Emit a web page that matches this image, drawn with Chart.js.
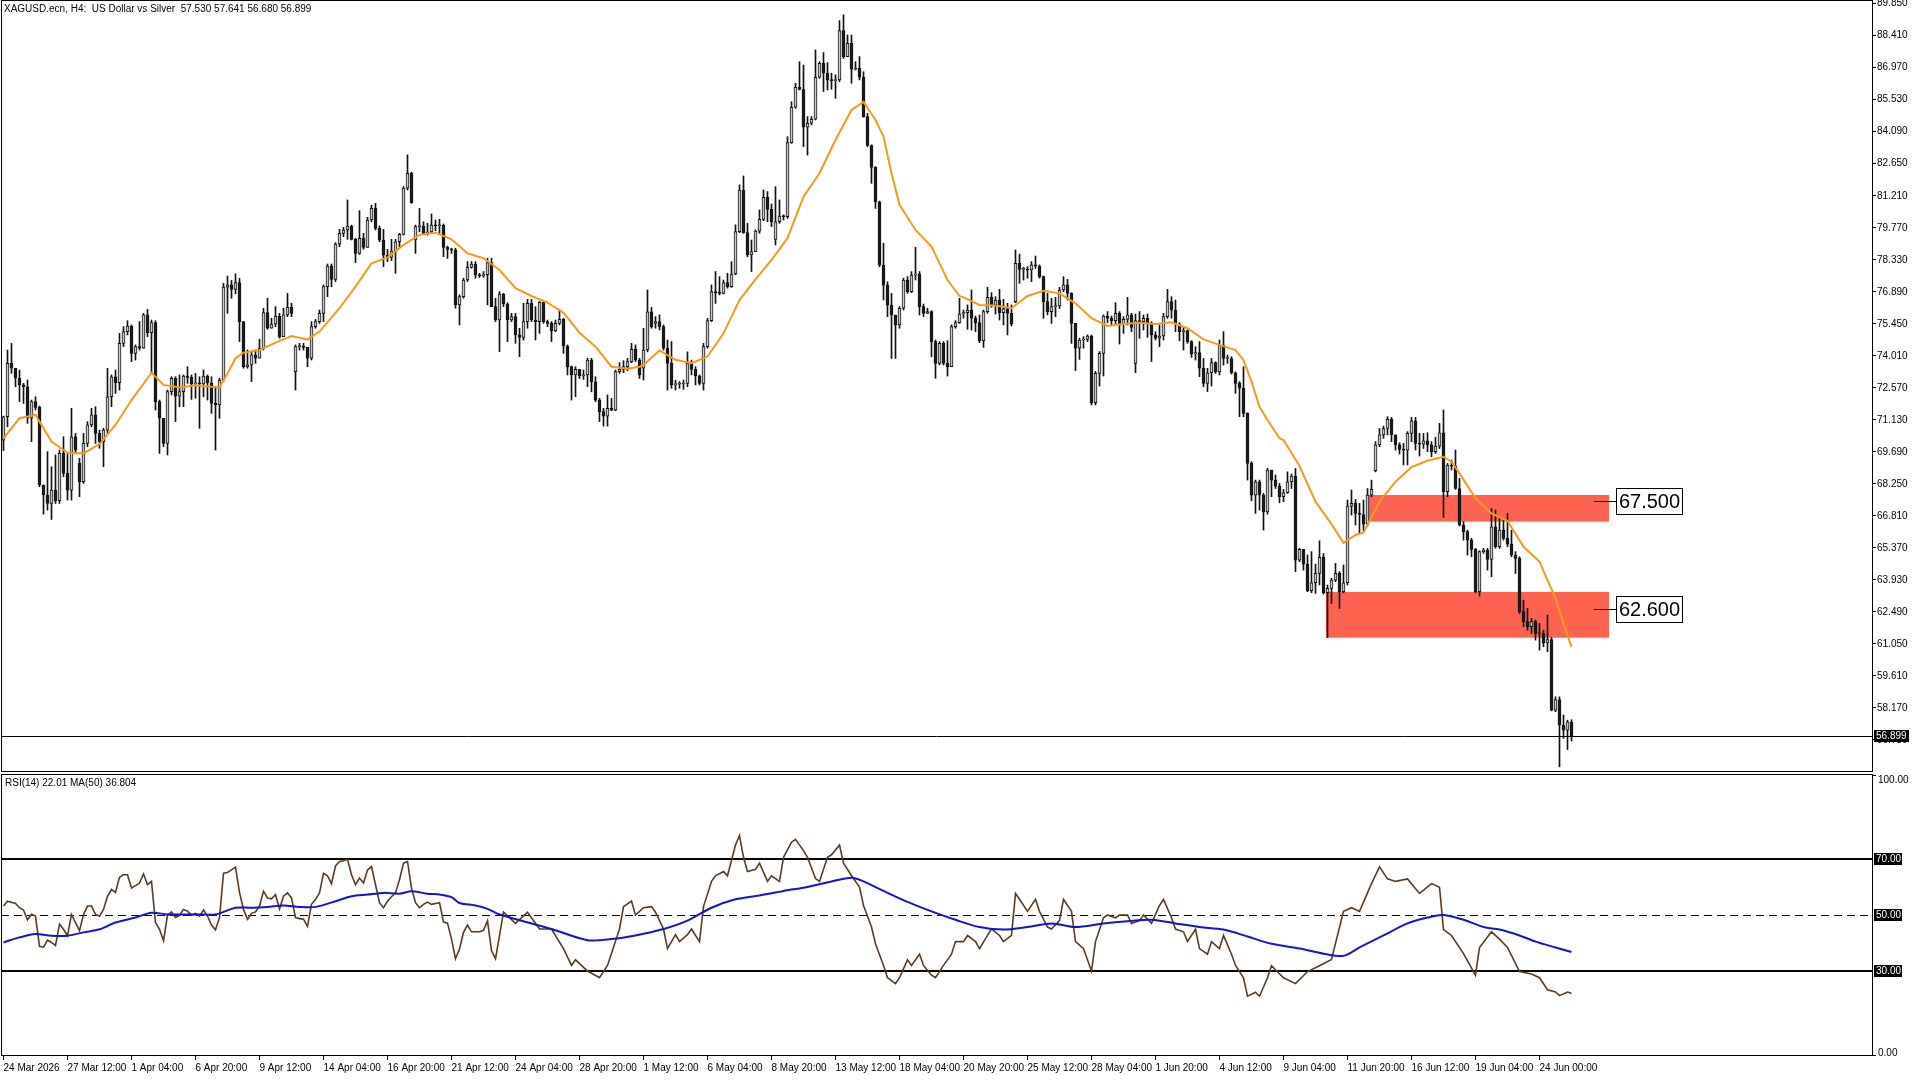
<!DOCTYPE html>
<html>
<head>
<meta charset="utf-8">
<script src="https://cdn.jsdelivr.net/npm/chart.js@4.4.1/dist/chart.umd.min.js"></script>
<style>
    html, body { margin: 0; padding: 0; background: #fff; }
    #wrap { position: relative; width: 1920px; height: 1080px; overflow: hidden; background: #fff; }
    #priceChart { position: absolute; left: 0; top: 0; }
    #rsiChart { position: absolute; left: 0; top: 772px; }
</style>
</head>
<body>
<div id="wrap">
    <canvas id="priceChart" width="1920" height="772"></canvas>
    <canvas id="rsiChart" width="1920" height="308"></canvas>
</div>
<script>
// XAGUSD H4 candles, bar 0 = 24 Mar 2026 20:00
const closes = [
    71.27, 73.67, 73.45, 73.00, 72.70, 72.62, 71.20, 71.95, 71.69, 68.20,
    67.75, 67.37, 67.97, 67.49, 69.62, 68.72, 67.97, 70.37, 69.77, 68.35,
    70.07, 70.90, 71.35, 70.52, 70.15, 70.67, 72.17, 73.07, 72.80, 74.57,
    75.10, 75.35, 74.12, 74.42, 74.35, 75.85, 75.05, 75.50, 71.95, 71.20,
    70.07, 72.40, 73.00, 72.20, 72.40, 73.10, 73.04, 72.74, 72.80, 72.74,
    73.10, 72.80, 71.87, 71.80, 72.92, 77.10, 77.20, 77.00, 77.30, 75.55,
    73.52, 73.60, 74.05, 73.90, 74.35, 75.95, 75.25, 75.44, 75.80, 74.87,
    75.85, 76.19, 75.92, 74.42, 74.45, 74.39, 73.90, 75.32, 75.55, 75.92,
    77.12, 78.05, 77.45, 79.04, 79.52, 79.67, 79.85, 79.25, 78.62, 79.29,
    78.89, 80.12, 80.64, 79.74, 79.22, 78.54, 78.44, 78.72, 79.14, 79.47,
    81.55, 82.22, 80.90, 79.82, 79.85, 79.52, 79.58, 79.89, 79.86, 79.88,
    78.89, 78.80, 78.77, 76.30, 76.67, 77.42, 77.99, 78.14, 77.65, 77.60,
    77.66, 78.20, 76.22, 75.62, 76.79, 76.34, 75.62, 75.77, 74.95, 74.84,
    75.55, 76.37, 75.62, 75.55, 76.42, 75.55, 75.47, 75.14, 75.47, 75.65,
    74.45, 73.52, 73.15, 73.40, 73.10, 73.15, 73.82, 72.84, 72.02, 71.50,
    71.30, 71.65, 71.57, 73.30, 73.40, 73.52, 73.75, 74.30, 73.82, 73.15,
    74.27, 75.99, 75.32, 75.55, 75.32, 74.35, 73.67, 72.70, 72.73, 72.74,
    72.77, 73.67, 73.40, 73.10, 72.77, 74.42, 75.59, 76.90, 76.85, 76.82,
    77.30, 77.12, 77.69, 79.60, 81.47, 79.55, 78.55, 78.70, 79.62, 80.15,
    81.14, 80.60, 80.04, 80.04, 80.30, 80.27, 83.60, 85.19, 86.09, 85.99,
    84.29, 84.47, 84.65, 86.54, 87.17, 86.72, 86.42, 86.39, 86.42, 88.64,
    87.47, 88.07, 86.90, 86.94, 86.54, 84.77, 83.47, 82.49, 80.94, 78.09,
    77.19, 76.29, 75.84, 75.40, 76.15, 77.42, 76.90, 77.64, 77.69, 76.22,
    75.92, 76.00, 74.65, 73.67, 74.57, 73.67, 73.52, 75.32, 75.50, 75.89,
    75.95, 76.07, 75.70, 75.50, 74.69, 76.00, 76.64, 76.30, 76.52, 75.95,
    76.14, 75.92, 75.44, 78.17, 77.90, 77.90, 77.87, 78.10, 78.05, 77.57,
    76.45, 76.00, 76.22, 76.25, 76.97, 77.20, 76.82, 75.47, 74.35, 74.72,
    74.75, 74.90, 71.90, 73.22, 74.12, 75.80, 75.70, 75.59, 75.92, 75.44,
    75.65, 75.85, 75.29, 75.59, 75.55, 75.70, 75.44, 74.95, 74.80, 74.90,
    75.77, 76.45, 76.07, 75.44, 75.10, 75.14, 74.65, 74.09, 74.15, 73.45,
    72.77, 73.25, 73.70, 73.29, 74.49, 73.89, 73.89, 73.25, 72.77, 72.55,
    71.42, 69.17, 67.74, 68.34, 67.74, 66.99, 68.87, 68.42, 68.15, 67.67,
    67.85, 68.34, 68.60, 64.82, 65.30, 64.64, 63.44, 63.80, 64.22, 64.94,
    63.35, 63.55, 63.92, 64.22, 63.40, 63.80, 67.25, 67.37, 66.92, 66.87,
    66.44, 67.74, 68.00, 70.00, 70.45, 70.74, 71.15, 70.45, 70.00, 69.80,
    69.77, 70.52, 71.09, 70.07, 70.04, 70.19, 70.00, 69.70, 69.95, 70.55,
    67.90, 69.10, 69.05, 68.04, 66.40, 66.10, 65.72, 65.30, 63.40, 65.20,
    65.27, 64.85, 66.32, 65.42, 66.17, 65.80, 65.54, 65.05, 64.90, 62.50,
    62.05, 61.82, 62.05, 61.52, 61.52, 61.10, 61.25, 58.07, 58.55, 57.40,
    57.17, 57.55, 56.899
];
const highs = [
    71.30, 74.27, 74.57, 73.45, 73.37, 72.77, 72.92, 72.02, 72.17, 71.75,
    68.20, 69.70, 69.02, 69.55, 69.77, 70.37, 69.62, 71.65, 70.52, 69.40,
    70.52, 71.05, 71.65, 71.72, 70.67, 70.75, 73.45, 73.15, 73.37, 75.02,
    75.32, 75.59, 75.40, 74.50, 75.55, 75.92, 76.10, 75.62, 75.59, 72.02,
    71.20, 72.47, 73.07, 73.07, 73.15, 73.15, 73.52, 73.15, 73.22, 73.07,
    73.37, 73.15, 73.07, 72.62, 73.00, 77.27, 77.60, 77.40, 77.70, 77.50,
    75.55, 74.27, 74.20, 74.27, 74.75, 76.15, 76.60, 75.70, 76.22, 75.92,
    76.15, 76.82, 76.37, 74.50, 74.57, 74.57, 74.39, 75.55, 75.65, 76.07,
    77.20, 78.14, 78.14, 79.10, 79.70, 79.79, 81.02, 79.89, 79.29, 80.54,
    79.52, 80.24, 80.79, 80.87, 79.85, 79.70, 78.80, 79.25, 79.25, 79.52,
    81.62, 83.05, 82.27, 79.89, 80.64, 80.04, 79.97, 80.39, 80.12, 80.15,
    79.94, 78.95, 78.85, 78.85, 76.75, 77.50, 78.25, 78.25, 78.25, 77.72,
    77.80, 78.40, 78.40, 76.60, 76.90, 76.82, 76.40, 75.92, 75.92, 75.25,
    76.37, 76.55, 76.55, 76.22, 76.45, 76.42, 75.62, 75.55, 75.62, 76.07,
    75.70, 74.50, 73.55, 73.52, 73.22, 73.37, 73.90, 73.90, 73.07, 72.10,
    71.65, 72.25, 72.10, 73.37, 73.70, 73.79, 73.90, 74.57, 74.50, 73.90,
    75.25, 76.97, 76.19, 75.77, 75.85, 75.40, 74.72, 74.65, 72.92, 72.85,
    72.92, 74.19, 73.82, 73.52, 73.15, 74.57, 75.70, 77.20, 77.80, 77.57,
    77.42, 77.72, 78.24, 79.90, 81.70, 82.10, 79.97, 79.22, 79.67, 80.57,
    81.47, 81.40, 80.84, 81.62, 81.02, 80.35, 83.87, 85.44, 86.27, 87.24,
    87.09, 84.77, 84.77, 87.77, 87.24, 87.65, 87.20, 86.72, 86.65, 89.09,
    89.35, 88.44, 88.44, 87.24, 87.47, 86.79, 84.92, 83.50, 82.52, 80.97,
    79.07, 77.34, 76.82, 75.70, 76.22, 77.50, 77.57, 77.80, 78.89, 77.80,
    76.34, 76.15, 76.04, 74.72, 74.65, 74.65, 74.69, 75.40, 75.59, 76.60,
    76.07, 76.30, 76.97, 75.80, 75.85, 76.07, 77.09, 76.85, 76.67, 77.00,
    76.55, 76.37, 76.30, 78.77, 78.59, 77.99, 78.02, 78.25, 78.50, 78.10,
    77.60, 76.82, 76.60, 76.64, 77.09, 77.57, 77.45, 76.85, 75.44, 74.80,
    74.87, 74.95, 74.95, 73.30, 74.20, 75.85, 76.00, 75.80, 76.40, 76.00,
    75.77, 76.64, 75.92, 75.89, 76.00, 75.85, 75.89, 75.55, 75.10, 75.40,
    75.92, 77.00, 76.67, 76.52, 75.50, 75.32, 75.17, 74.69, 74.42, 74.65,
    73.89, 73.45, 73.89, 73.74, 74.72, 75.10, 74.04, 73.97, 73.29, 72.85,
    73.52, 71.45, 69.25, 68.42, 68.42, 67.82, 68.95, 68.87, 68.65, 68.27,
    68.00, 68.79, 68.69, 68.94, 65.35, 65.20, 65.05, 65.20, 64.64, 65.69,
    65.12, 63.70, 64.00, 64.67, 64.30, 64.60, 67.52, 67.97, 67.55, 67.37,
    67.52, 68.04, 68.42, 70.15, 70.74, 70.85, 71.27, 71.24, 70.45, 70.10,
    70.07, 70.60, 71.24, 71.24, 70.52, 70.52, 70.55, 70.15, 70.34, 70.97,
    71.57, 69.17, 69.32, 69.77, 68.50, 66.55, 66.17, 65.80, 65.35, 65.24,
    65.35, 65.35, 67.14, 67.07, 66.70, 66.62, 66.92, 66.17, 65.20, 64.97,
    63.02, 62.65, 62.20, 62.12, 61.97, 61.67, 62.35, 61.34, 58.67, 58.67,
    57.85, 57.62, 57.641
];
const lows = [
    69.74, 70.82, 73.22, 72.62, 71.95, 71.87, 70.97, 70.15, 71.57, 68.12,
    66.89, 67.07, 66.65, 67.37, 67.37, 68.57, 67.52, 67.52, 69.62, 67.67,
    68.27, 69.92, 70.82, 70.07, 69.85, 69.02, 70.52, 71.72, 72.32, 72.47,
    74.42, 74.95, 73.75, 73.82, 74.27, 74.50, 74.87, 73.22, 71.57, 69.62,
    69.92, 69.55, 72.25, 71.05, 71.72, 71.72, 72.77, 72.05, 72.10, 70.75,
    72.17, 72.02, 71.42, 69.77, 71.20, 72.85, 75.92, 76.60, 76.80, 74.65,
    73.45, 73.45, 72.85, 73.67, 73.97, 74.27, 75.20, 75.32, 75.32, 74.80,
    74.87, 75.77, 75.77, 72.47, 74.27, 74.27, 73.52, 73.82, 75.25, 75.47,
    75.55, 76.67, 77.12, 77.35, 78.92, 79.37, 79.25, 79.22, 78.20, 78.57,
    78.80, 78.89, 80.04, 79.67, 79.14, 78.02, 78.25, 78.29, 77.72, 78.92,
    79.44, 81.47, 80.87, 78.62, 79.59, 79.49, 79.44, 79.55, 79.64, 79.52,
    78.47, 78.39, 78.62, 76.15, 75.40, 76.60, 77.35, 77.95, 77.50, 77.54,
    77.54, 76.30, 76.22, 75.55, 74.20, 76.22, 74.65, 75.55, 74.57, 73.97,
    74.72, 75.25, 75.55, 74.72, 75.02, 75.47, 75.32, 74.65, 75.10, 75.40,
    74.12, 73.15, 72.02, 72.17, 72.99, 72.95, 72.62, 72.39, 71.95, 71.05,
    70.85, 70.85, 71.54, 71.54, 73.22, 73.25, 73.34, 73.70, 73.75, 72.99,
    72.92, 74.19, 75.25, 75.25, 75.17, 74.27, 72.47, 72.55, 72.47, 72.55,
    72.50, 72.62, 73.15, 72.70, 72.70, 72.47, 74.35, 75.55, 76.37, 76.75,
    76.79, 77.05, 77.09, 77.65, 79.55, 79.52, 78.47, 77.80, 79.00, 79.52,
    80.09, 80.04, 79.82, 79.00, 79.97, 80.12, 80.19, 83.57, 85.14, 85.97,
    83.42, 83.04, 84.40, 84.62, 86.49, 85.90, 85.97, 86.00, 85.59, 86.34,
    87.39, 87.47, 86.27, 86.87, 86.42, 84.74, 83.42, 81.77, 80.64, 78.02,
    76.52, 75.77, 73.89, 73.89, 75.25, 76.07, 76.82, 76.85, 77.42, 75.85,
    75.77, 75.92, 73.97, 73.00, 73.60, 73.60, 73.10, 73.52, 75.25, 75.47,
    75.70, 75.20, 75.17, 75.10, 74.60, 74.39, 75.92, 76.19, 75.89, 75.62,
    75.40, 74.95, 75.35, 76.40, 77.27, 77.42, 77.50, 77.35, 77.94, 77.50,
    75.70, 75.85, 75.47, 75.77, 76.14, 76.90, 76.52, 74.57, 73.34, 73.85,
    74.35, 74.65, 71.80, 71.80, 72.65, 73.10, 75.50, 75.40, 75.40, 74.54,
    75.02, 75.40, 75.10, 73.25, 74.80, 75.17, 74.84, 73.75, 74.72, 74.42,
    74.72, 75.70, 75.70, 75.10, 74.69, 74.27, 74.57, 73.94, 73.82, 73.07,
    72.62, 72.40, 72.65, 73.22, 73.15, 73.59, 73.67, 73.19, 72.32, 71.27,
    71.27, 68.42, 67.49, 66.92, 67.07, 66.17, 66.89, 67.67, 68.04, 67.40,
    67.45, 67.82, 68.04, 64.30, 64.75, 64.37, 63.40, 63.35, 63.32, 63.70,
    63.29, 61.34, 62.87, 63.85, 62.65, 63.35, 63.70, 66.85, 66.40, 66.05,
    66.14, 66.35, 67.67, 68.79, 69.92, 70.30, 70.45, 70.15, 69.77, 69.59,
    69.10, 69.10, 70.15, 69.77, 69.50, 69.84, 69.70, 69.47, 69.62, 69.84,
    66.74, 67.67, 68.87, 68.00, 66.35, 65.72, 65.05, 64.97, 63.35, 63.20,
    65.12, 64.37, 64.07, 65.35, 65.35, 65.72, 65.42, 64.97, 64.22, 62.42,
    61.82, 61.67, 61.52, 61.22, 60.77, 60.92, 60.70, 58.04, 58.00, 55.52,
    56.80, 56.30, 56.68
];
// opens follow the previous close except after these gaps
const firstOpen = 70.22;
const gapBars = [19, 73, 103, 160, 163, 193, 253, 283, 343, 392];
const gapOpens = [69.17, 73.30, 79.22, 73.45, 75.47, 79.25, 76.45, 73.67, 68.84, 57.53];

// orange moving average on price
const maBars = [0, 4, 8, 12, 16, 20, 24, 28, 32, 36, 37, 40, 44, 48, 52, 54, 56, 58, 60, 64, 68, 72, 76, 79,
    84, 88, 92, 96, 100, 104, 108, 112, 116, 120, 124, 128, 132, 136, 140, 144, 148, 152, 156, 159,
    160, 164, 168, 172, 176, 180, 184, 188, 192, 196, 200, 204, 208, 212, 215, 218, 220, 222, 224, 228, 232, 236, 239,
    240, 244, 248, 252, 256, 260, 264, 268, 272, 276, 280, 284, 288, 292, 296, 300, 304, 308, 310, 312, 314, 316, 319,
    320, 324, 328, 332, 335, 338, 340, 344, 348, 352, 356, 360, 362, 364, 368, 372, 376, 380, 384, 386, 388, 390, 392];
const maValues = [70.30, 71.20, 71.35, 70.15, 69.65, 69.62, 70.04, 70.90, 72.02, 73.00, 73.25, 72.70, 72.59, 72.68, 72.62, 72.59, 73.22, 73.90, 74.15, 74.27, 74.60, 74.90, 74.75, 75.10,
    76.15, 77.12, 78.17, 78.44, 79.00, 79.45, 79.55, 79.25, 78.62, 78.40, 77.87, 77.05, 76.70, 76.40, 75.95, 75.05, 74.42, 73.52, 73.43, 73.52,
    73.60, 74.25, 73.83, 73.68, 73.98, 75.02, 76.52, 77.45, 78.32, 79.30, 81.17, 82.22, 83.72, 85.07, 85.43, 84.62, 83.87, 82.22, 80.80, 79.67, 78.92, 77.42, 76.70,
    76.64, 76.30, 76.27, 76.15, 76.70, 76.94, 76.82, 76.37, 75.70, 75.35, 75.44, 75.50, 75.44, 75.52, 75.25, 74.75, 74.50, 74.27, 73.82, 72.85, 71.72, 71.12, 70.30,
    70.22, 69.05, 67.45, 66.44, 65.60, 65.95, 66.05, 67.45, 68.35, 69.00, 69.29, 69.47, 69.25, 68.72, 67.60, 66.92, 66.59, 65.42, 64.75, 63.92, 63.10, 61.97, 60.92];

// RSI(14) and its MA(50)
const rsiBars = [0, 1, 3, 4, 5, 6, 7, 8, 9, 10,
    11, 12, 13, 14, 15, 16, 17, 18, 19, 20,
    21, 22, 23, 24, 25, 26, 27, 28, 29, 30,
    31, 32, 33, 34, 35, 36, 37, 38, 39, 40,
    41, 42, 43, 44, 45, 46, 47, 48, 49, 50,
    51, 52, 53, 54, 55, 56, 57, 58, 59, 60,
    61, 62, 63, 64, 65, 66, 67, 68, 69, 70,
    71, 72, 73, 74, 75, 76, 77, 78, 79, 80,
    81, 82, 83, 84, 85, 86, 87, 88, 89, 90,
    91, 92, 93, 94, 95, 96, 97, 98, 99, 100,
    101, 102, 103, 104, 105, 106, 107, 108, 109, 110,
    111, 112, 113, 114, 115, 116, 117, 118, 119, 120,
    121, 122, 123, 124,
    125, 128, 131, 134, 137, 140, 142, 143, 146, 149, 151, 154, 155, 157, 158, 160, 162, 163, 165, 166,
    168, 169, 171, 172, 174, 175, 177, 178, 180, 181, 183, 184, 185, 186, 188, 189, 191, 192, 194, 195,
    197, 198, 200, 201, 203, 204, 206, 207, 209, 210, 212, 214, 215, 217, 218, 220, 221, 223, 224, 226,
    227, 229, 230, 232, 233, 235, 237, 238, 240, 241, 243, 244, 246, 247, 249, 250, 252, 253, 254, 256,
    258, 259, 261, 262, 264, 265, 267, 268, 270, 272, 273, 275, 276, 278, 279, 281, 282, 284, 285, 287,
    289, 290, 292, 293, 295, 296, 298, 299, 301, 302, 304, 305, 307, 308, 310, 311, 313, 314, 316, 317,
    320, 323, 326, 329, 332, 335, 337, 339, 342, 344, 346, 348, 351, 354, 357, 359, 360, 362, 365, 368,
    369, 372, 374, 376, 379, 382, 384, 386, 388, 389, 391, 392];
const rsiValues = [53.2, 54.9, 54.1, 52.6, 51.8, 48.3, 50.3, 49.6, 38.8, 38.5,
    41.0, 40.2, 39.1, 46.7, 44.9, 42.6, 50.2, 47.3, 44.4, 50.2,
    53.2, 53.2, 50.2, 49.6, 52.0, 56.7, 59.1, 58.1, 63.5, 64.4,
    64.4, 59.6, 60.5, 61.4, 64.7, 60.8, 62.0, 47.3, 44.9, 40.8,
    49.9, 51.1, 49.1, 49.9, 52.0, 51.4, 49.9, 50.6, 49.6, 51.8,
    49.6, 46.4, 44.7, 49.1, 64.9, 65.2, 66.1, 67.1, 58.1, 52.0,
    48.5, 50.6, 51.1, 53.2, 58.5, 56.1, 55.8, 57.3, 52.2, 56.7,
    57.9, 56.1, 49.1, 48.7, 48.5, 45.9, 53.8, 55.5, 57.9, 64.9,
    64.0, 61.2, 67.5, 69.1, 69.4, 69.9, 64.4, 60.8, 63.2, 61.4,
    66.1, 67.3, 60.8, 54.4, 52.6, 54.9, 56.5, 57.9, 62.6, 68.5,
    69.1, 59.6, 54.4, 52.6, 53.8, 54.6, 53.8, 54.1, 54.4, 47.5,
    47.1, 41.4, 34.4, 37.9, 43.8, 46.4, 44.0, 44.0, 44.0, 44.5,
    47.9, 37.3, 34.4, 42.6,
    51.0, 47.0, 51.0, 45.0, 45.0, 38.0, 32.0, 34.0, 30.0, 27.6, 32.0, 45.0, 53.0, 55.0, 50.0, 52.6, 53.0, 51.0, 45.0, 38.0,
    43.0, 40.5, 43.0, 45.0, 40.5, 53.0, 62.0, 64.0, 65.5, 64.0, 75.0, 78.4, 70.6, 65.5, 66.3, 68.5, 62.0, 64.0, 62.0, 70.6,
    76.0, 77.0, 73.0, 70.6, 63.0, 62.0, 70.6, 71.5, 75.0, 68.5, 64.0, 60.0, 53.4, 45.7, 39.7, 32.0, 27.6, 25.5, 27.6, 34.0,
    32.0, 36.0, 32.0, 28.5, 27.6, 32.0, 36.0, 40.5, 40.5, 42.7, 40.5, 38.0, 42.7, 45.0, 42.7, 40.5, 42.7, 57.7, 55.6, 51.3,
    55.6, 51.3, 45.7, 45.0, 48.0, 55.6, 51.3, 40.5, 38.0, 30.0, 40.5, 49.0, 50.0, 49.0, 50.0, 50.0, 47.0, 48.0, 50.0, 47.0,
    53.4, 55.6, 49.0, 45.0, 44.0, 40.5, 45.0, 38.0, 36.0, 40.5, 38.0, 42.7, 36.0, 32.0, 27.6, 21.0, 22.4, 21.0, 27.6, 31.9,
    27.6, 25.5, 29.8, 31.9, 34.1, 51.3, 52.6, 51.3, 61.2, 67.2, 62.9, 62.0, 62.9, 57.7, 61.2, 59.9, 44.8, 42.7, 36.2, 28.5,
    38.4, 44.0, 41.4, 38.4, 29.8, 28.9, 27.6, 23.3, 22.5, 21.2, 22.5, 22.01];
const rsiMaBars = [0, 4, 8, 12, 16, 20, 24, 28, 33, 37, 41, 45, 49, 53, 58, 62, 66, 70, 74, 78, 83, 87, 91, 95, 99, 102, 106, 109, 112, 114, 118, 121, 124,
    137, 146, 152, 158, 165, 171, 177, 183, 189, 195, 201, 207, 212, 215, 220, 226, 232, 238, 244, 250, 256, 262, 268, 275, 281, 287, 293, 299, 305, 311, 317,
    324, 330, 335, 339, 345, 351, 356, 360, 365, 370, 374, 379, 383, 388, 392];
const rsiMaValues = [40.2, 42.0, 43.2, 42.6, 42.6, 43.8, 44.9, 47.3, 49.1, 50.8, 50.2, 50.2, 50.2, 50.2, 52.6, 52.6, 52.9, 53.4, 52.9, 52.9, 54.9, 56.7, 57.3, 57.9, 57.6, 58.5, 57.6, 57.3, 56.4, 54.3, 53.4, 52.2, 50.2,
    45.0, 41.0, 41.4, 42.7, 45.0, 48.0, 52.6, 55.6, 57.0, 58.6, 60.0, 62.0, 63.3, 62.0, 58.6, 54.7, 51.3, 48.3, 45.7, 44.8, 45.7, 47.0, 45.7, 47.0, 47.8, 48.3, 47.0, 45.7, 44.8, 42.3, 39.7,
    38.0, 36.2, 35.4, 38.4, 42.7, 47.0, 49.1, 50.0, 48.3, 45.7, 44.8, 42.7, 40.5, 38.4, 36.804];

// red zones and their labels
const zoneFrom = [340.9, 330.6];
const zoneTo = [401.4, 401.4];
const zoneLow = [66.55, 61.33];
const zoneHigh = [67.75, 63.39];
const zoneLabels = [67.5, 62.6];

const priceTicks = [89.85, 88.41, 86.97, 85.53, 84.09, 82.65, 81.21, 79.77, 78.33, 76.89, 75.45, 74.01,
    72.57, 71.13, 69.69, 68.25, 66.81, 65.37, 63.93, 62.49, 61.05, 59.61, 58.17, 56.73];
const rsiLevels = [70, 50, 30];
const dateTickBars = [0, 16, 32, 48, 64, 80, 96, 112, 128, 144, 160, 176, 192, 208, 224, 240, 256, 272, 288, 304, 320, 336, 352, 368, 384];
const dateLabels = ['24 Mar 2026', '27 Mar 12:00', '1 Apr 04:00', '6 Apr 20:00', '9 Apr 12:00', '14 Apr 04:00', '16 Apr 20:00',
    '21 Apr 12:00', '24 Apr 04:00', '28 Apr 20:00', '1 May 12:00', '6 May 04:00', '8 May 20:00', '13 May 12:00', '18 May 04:00',
    '20 May 20:00', '25 May 12:00', '28 May 04:00', '1 Jun 20:00', '4 Jun 12:00', '9 Jun 04:00', '11 Jun 20:00', '16 Jun 12:00',
    '19 Jun 04:00', '24 Jun 00:00'];

const FONT = '"Liberation Sans", Arial, sans-serif';
const X_MIN = -0.625;
const X_MAX = X_MIN + 1871 / 4;

const opens = closes.map((c, i) => (i === 0 ? firstOpen : closes[i - 1]));
gapBars.forEach((b, k) => { opens[b] = gapOpens[k]; });

const lastPrice = closes[closes.length - 1];
const bodyColors = closes.map((c, i) => (c >= opens[i] ? '#c9c9c9' : '#1c1c1c'));

// keep the plot area exactly where the axes say, no extra room for end labels
function fitRight(s) {
    s.width = 48;
    s.paddingTop = 0;
    s.paddingBottom = 0;
}

const pricePanel = {
    id: 'pricePanel',
    beforeDatasetsDraw(chart) {
        const { ctx, chartArea: a, scales: { x, y } } = chart;
        ctx.save();
        ctx.fillStyle = '#fe6350';
        zoneFrom.forEach((z, k) => {
            const x0 = x.getPixelForValue(zoneFrom[k]);
            const x1 = x.getPixelForValue(zoneTo[k]);
            const y0 = y.getPixelForValue(zoneHigh[k]);
            const y1 = y.getPixelForValue(zoneLow[k]);
            ctx.fillRect(x0, y0, x1 - x0, y1 - y0);
        });
        const yp = Math.round(y.getPixelForValue(lastPrice)) + 0.5;
        ctx.strokeStyle = '#000';
        ctx.lineWidth = 1;
        ctx.beginPath();
        ctx.moveTo(a.left, yp);
        ctx.lineTo(a.right, yp);
        ctx.stroke();
        ctx.restore();
    },
    afterDraw(chart) {
        const { ctx, chartArea: a, scales: { x, y } } = chart;
        ctx.save();
        ctx.strokeStyle = '#000';
        ctx.lineWidth = 1;
        ctx.strokeRect(a.left + 0.5, a.top - 0.5, a.right - a.left, a.bottom - a.top + 1);

        // zone labels
        zoneLabels.forEach((v, k) => {
            const yl = Math.round(y.getPixelForValue(v)) + 0.5;
            const xe = Math.round(x.getPixelForValue(zoneTo[k]));
            ctx.beginPath();
            ctx.moveTo(xe - 15, yl);
            ctx.lineTo(xe + 7, yl);
            ctx.stroke();
            ctx.fillStyle = '#fff';
            ctx.fillRect(xe + 7.5, yl - 13, 66, 26);
            ctx.strokeRect(xe + 7.5, yl - 13, 66, 26);
            ctx.fillStyle = '#000';
            ctx.font = '20px ' + FONT;
            ctx.textAlign = 'center';
            ctx.textBaseline = 'middle';
            ctx.fillText(v.toFixed(3), xe + 40.5, yl + 1);
        });

        // last price tag
        const yp = Math.round(y.getPixelForValue(lastPrice));
        ctx.fillStyle = '#000';
        ctx.fillRect(a.right + 2, yp - 6, 35, 12);
        ctx.fillStyle = '#fff';
        ctx.font = '10px ' + FONT;
        ctx.textAlign = 'left';
        ctx.textBaseline = 'middle';
        ctx.fillText(lastPrice.toFixed(3), a.right + 4, yp + 0.5);

        // header
        ctx.fillStyle = '#000';
        ctx.textBaseline = 'middle';
        ctx.fillText('XAGUSD.ecn, H4:  US Dollar vs Silver  57.530 57.641 56.680 56.899', 4, 9);
        ctx.restore();
    }
};

new Chart(document.getElementById('priceChart').getContext('2d'), {
    data: {
        datasets: [{
            type: 'bar',
            data: closes.map((c, i) => ({ x: i, y: [Math.min(lows[i], opens[i], c), Math.max(highs[i], opens[i], c)] })),
            backgroundColor: '#111',
            barThickness: 1,
            grouped: false,
            order: 2
        }, {
            type: 'bar',
            data: closes.map((c, i) => ({ x: i, y: [opens[i], c] })),
            backgroundColor: bodyColors,
            borderColor: '#111',
            borderWidth: 1,
            borderSkipped: false,
            barThickness: 3,
            minBarLength: 1,
            grouped: false,
            order: 1
        }, {
            type: 'line',
            data: maBars.map((b, k) => ({ x: b, y: maValues[k] })),
            borderColor: '#f39a1c',
            borderWidth: 2,
            pointRadius: 0,
            tension: 0,
            order: 0
        }]
    },
    options: {
        responsive: false,
        animation: false,
        events: [],
        layout: { padding: { top: 1, left: 1, bottom: 1, right: 0 } },
        plugins: { legend: { display: false }, tooltip: { enabled: false } },
        scales: {
            x: { type: 'linear', min: X_MIN, max: X_MAX, display: false, offset: false },
            y: {
                position: 'right',
                min: 55.333,
                max: 89.971,
                afterBuildTicks: s => { s.ticks = priceTicks.map(v => ({ value: v })); },
                afterFit: fitRight,
                ticks: { callback: v => v.toFixed(3), color: '#000', font: { family: FONT, size: 10 }, padding: 1, autoSkip: false },
                grid: { drawOnChartArea: false, tickLength: 4, color: '#000' },
                border: { color: '#000' }
            }
        }
    },
    plugins: [pricePanel]
});

const rsiPanel = {
    id: 'rsiPanel',
    beforeDatasetsDraw(chart) {
        const { ctx, chartArea: a, scales: { y } } = chart;
        ctx.save();
        ctx.strokeStyle = '#000';
        rsiLevels.forEach(v => {
            const yl = Math.round(y.getPixelForValue(v));
            ctx.beginPath();
            if (v === 50) {
                ctx.lineWidth = 1;
                ctx.setLineDash([8, 5]);
                ctx.moveTo(a.left, yl + 0.5);
                ctx.lineTo(a.right, yl + 0.5);
            } else {
                ctx.lineWidth = 2;
                ctx.setLineDash([]);
                ctx.moveTo(a.left, yl);
                ctx.lineTo(a.right, yl);
            }
            ctx.stroke();
        });
        ctx.restore();
    },
    afterDraw(chart) {
        const { ctx, chartArea: a, scales: { y } } = chart;
        ctx.save();
        ctx.strokeStyle = '#000';
        ctx.lineWidth = 1;
        ctx.strokeRect(a.left + 0.5, a.top - 0.5, a.right - a.left, a.bottom - a.top + 1);
        ctx.font = '10px ' + FONT;
        ctx.textBaseline = 'middle';
        ctx.textAlign = 'left';
        rsiLevels.forEach(v => {
            const yl = Math.round(y.getPixelForValue(v));
            ctx.fillStyle = '#000';
            ctx.fillRect(a.right + 2, yl - 6, 28, 12);
            ctx.fillStyle = '#fff';
            ctx.fillText(v.toFixed(2), a.right + 4, yl + 0.5);
        });
        // scale end labels, kept inside the panel like the terminal does
        ctx.fillStyle = '#000';
        ctx.fillText('100.00', a.right + 6, y.getPixelForValue(100) + 5);
        ctx.fillText('0.00', a.right + 6, y.getPixelForValue(0) - 2);
        ctx.fillText('RSI(14) 22.01 MA(50) 36.804', 5, a.top + 8);
        ctx.restore();
    }
};

new Chart(document.getElementById('rsiChart').getContext('2d'), {
    type: 'line',
    data: {
        datasets: [{
            data: rsiBars.map((b, k) => ({ x: b, y: rsiValues[k] })),
            borderColor: '#5b3a1e',
            borderWidth: 1.6,
            pointRadius: 0,
            tension: 0,
            order: 1
        }, {
            data: rsiMaBars.map((b, k) => ({ x: b, y: rsiMaValues[k] })),
            borderColor: '#1414c8',
            borderWidth: 2,
            pointRadius: 0,
            tension: 0.3,
            order: 0
        }]
    },
    options: {
        responsive: false,
        animation: false,
        events: [],
        layout: { padding: { top: 3, left: 1, bottom: 0, right: 0 } },
        plugins: { legend: { display: false }, tooltip: { enabled: false } },
        scales: {
            x: {
                type: 'linear',
                min: X_MIN,
                max: X_MAX,
                offset: false,
                afterBuildTicks: s => { s.ticks = dateTickBars.map(v => ({ value: v })); },
                afterFit: s => { s.height = 25; s.paddingLeft = 0; s.paddingRight = 0; },
                ticks: {
                    callback: (v, i) => dateLabels[i],
                    align: 'start',
                    autoSkip: false,
                    maxRotation: 0,
                    color: '#000',
                    font: { family: FONT, size: 10 },
                    padding: 2
                },
                grid: { drawOnChartArea: false, tickLength: 5, color: '#000' },
                border: { color: '#000' }
            },
            y: {
                position: 'right',
                min: 0,
                max: 100,
                afterBuildTicks: s => { s.ticks = [{ value: 100 }, { value: 0 }]; },
                afterFit: fitRight,
                ticks: { display: false },
                grid: { drawOnChartArea: false, tickLength: 4, color: '#000' },
                border: { color: '#000' }
            }
        }
    },
    plugins: [rsiPanel]
});
</script>
</body>
</html>
